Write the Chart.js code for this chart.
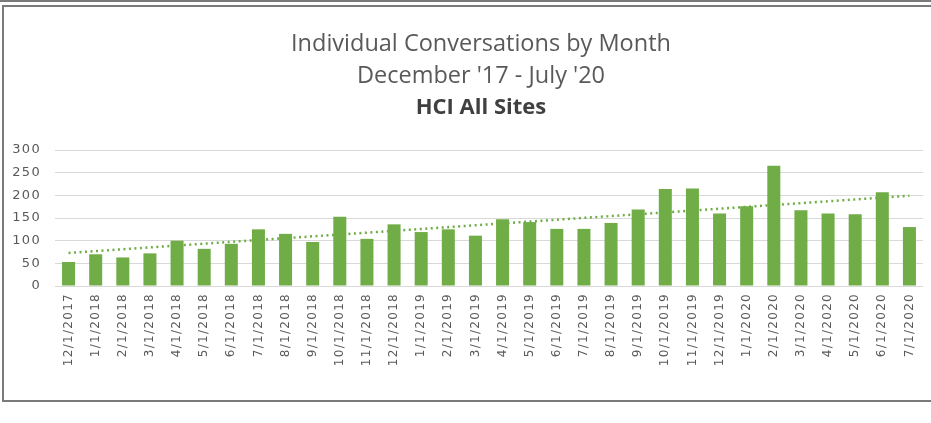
<!DOCTYPE html>
<html>
<head>
<meta charset="utf-8">
<script src="https://cdn.jsdelivr.net/npm/chart.js@4"></script>
<style>
  body { margin: 0; background: #fff; overflow: hidden; }
  .topband { position: absolute; left: 0; top: 0; width: 931px; height: 2px; background: #7a7a7a; }
  .frame { position: absolute; left: 2px; top: 5px; width: 1000px; height: 393px; border: 2px solid #7a7a7a; border-right: none; }
  #chart { position: absolute; left: 0; top: 0; }
</style>
</head>
<body>
<div class="topband"></div>
<div class="frame"></div>
<canvas id="chart" width="962" height="423"></canvas>
<script>
// months shown on the x axis
const months = ['12/1/2017', '1/1/2018', '2/1/2018', '3/1/2018', '4/1/2018', '5/1/2018', '6/1/2018',
  '7/1/2018', '8/1/2018', '9/1/2018', '10/1/2018', '11/1/2018', '12/1/2018', '1/1/2019', '2/1/2019',
  '3/1/2019', '4/1/2019', '5/1/2019', '6/1/2019', '7/1/2019', '8/1/2019', '9/1/2019', '10/1/2019',
  '11/1/2019', '12/1/2019', '1/1/2020', '2/1/2020', '3/1/2020', '4/1/2020', '5/1/2020', '6/1/2020',
  '7/1/2020'];

// conversations per month
const conversations = [53, 70, 63, 72, 100, 82, 93, 125, 115, 97, 153, 104, 136, 119, 125, 111,
  147, 141, 126, 126, 139, 169, 214, 215, 160, 176, 265, 167, 160, 158, 207, 130];

const trendStart = 73;
const trendEnd = 199;
const trend = months.map((m, i) => i === 0 ? trendStart : (i === months.length - 1 ? trendEnd : null));

const yTicks = [0, 50, 100, 150, 200, 250, 300];

const titleLines = ['Individual Conversations by Month', "December '17 - July '20"];
const subTitle = 'HCI All Sites';

// axis labels in the source look stretched sideways, so give them some letter spacing
class SpacedCategory extends Chart.CategoryScale {
  drawLabels(area) {
    this.ctx.letterSpacing = '1.3px';
    super.drawLabels(area);
    this.ctx.letterSpacing = '0px';
  }
}
SpacedCategory.id = 'spacedCategory';
SpacedCategory.defaults = Chart.CategoryScale.defaults;

class SpacedLinear extends Chart.LinearScale {
  drawLabels(area) {
    this.ctx.letterSpacing = '1.3px';
    super.drawLabels(area);
    this.ctx.letterSpacing = '0px';
  }
}
SpacedLinear.id = 'spacedLinear';
SpacedLinear.defaults = Chart.LinearScale.defaults;

Chart.register(SpacedCategory, SpacedLinear);

const grey = '#595959';
const green = '#70ad47';

new Chart(document.getElementById('chart'), {
  data: {
    labels: months,
    datasets: [
      {
        type: 'line',
        data: trend,
        spanGaps: true,
        borderColor: green,
        borderWidth: 2.5,
        borderDash: [2, 3.5],
        pointRadius: 0,
        order: 0
      },
      {
        type: 'bar',
        data: conversations,
        backgroundColor: green,
        barPercentage: 0.48,
        categoryPercentage: 1,
        order: 1
      }
    ]
  },
  options: {
    responsive: false,
    animation: false,
    layout: { padding: 0 },
    plugins: {
      legend: { display: false },
      tooltip: { enabled: false },
      title: {
        display: true,
        text: titleLines,
        color: grey,
        font: { family: 'Open Sans', size: 23.5, weight: 'normal', lineHeight: 32 / 23.5 },
        padding: { top: 28, bottom: 0 }
      },
      subtitle: {
        display: true,
        text: subTitle,
        color: '#404040',
        font: { family: 'Open Sans', size: 22, weight: 'bold', lineHeight: 32 / 22 },
        padding: { top: 0, bottom: 26 }
      }
    },
    scales: {
      x: {
        type: 'spacedCategory',
        grid: { display: false, drawTicks: false },
        border: { display: false },
        ticks: {
          autoSkip: false,
          minRotation: 90,
          maxRotation: 90,
          padding: 7,
          color: grey,
          font: { family: 'DejaVu Sans', size: 12 }
        },
        afterFit: (axis) => { axis.height = 137; }
      },
      y: {
        type: 'spacedLinear',
        min: 0,
        max: 300,
        grid: { color: '#d9d9d9', lineWidth: 1, drawTicks: false },
        border: { display: false },
        afterBuildTicks: (axis) => { axis.ticks = yTicks.map(v => ({ value: v })); },
        ticks: {
          padding: 14,
          color: grey,
          font: { family: 'DejaVu Sans', size: 13 }
        },
        afterFit: (axis) => { axis.width = 55; }
      },
      // empty right-hand axis, only there to keep the plot clear of the right edge
      yRight: {
        position: 'right',
        grid: { display: false, drawTicks: false },
        border: { display: false },
        ticks: { display: false },
        afterFit: (axis) => { axis.width = 39; }
      }
    }
  }
});
</script>
</body>
</html>
